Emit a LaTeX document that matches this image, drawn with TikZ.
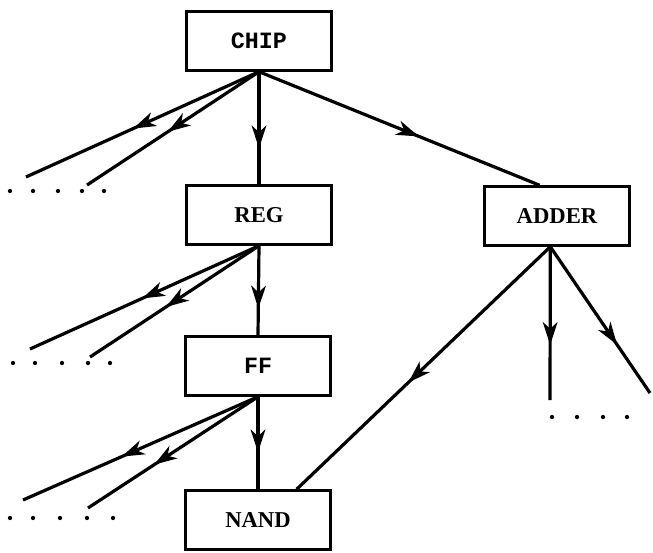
\documentclass[tikz,border=0pt]{standalone}
\usepackage{fontspec}
\setmainfont{Liberation Serif}
\newfontfamily\boxmono{Liberation Mono}
\usetikzlibrary{arrows.meta,decorations.markings,calc}
\begin{document}
\begin{tikzpicture}[x=0.75pt,y=-0.75pt,
  blk/.style={draw,line width=2.1pt,minimum width=109pt,minimum height=44pt,inner sep=0pt,font=\fontsize{17}{17}\selectfont\bfseries},
  mblk/.style={blk,font=\fontsize{17.5}{17.5}\selectfont\boxmono\bfseries},
  edge/.style={line width=2.4pt},
  midarr/.style={edge,postaction={decorate},decoration={markings,mark=at position #1 with {\arrow{Stealth[length=17pt,width=11pt,inset=5pt]}}}},
  dot/.style={circle,fill,inner sep=0pt,minimum size=3.2pt}]
\useasboundingbox (0,0) rectangle (653,553);
% boxes
\node[mblk] (chip) at (259,41) {CHIP};
\node[blk] (reg) at (259,215) {REG};
\node[mblk] (ff) at (258,366) {FF};
\node[blk] (nand) at (258,520) {NAND};
\node[blk] (adder) at (557,216) {ADDER};
% anchors
\coordinate (adin) at ([xshift=-13pt]adder.north);
\coordinate (adout) at ([xshift=-5pt]adder.south);
\coordinate (nandin) at ([xshift=29pt]nand.north);
% free ends
\coordinate (c1) at (26,177);
\coordinate (c2) at (87,185);
\coordinate (r1) at (30,349);
\coordinate (r2) at (90,357);
\coordinate (f1) at (23,500);
\coordinate (f2) at (88,508);
\coordinate (a1) at (550,400);
\coordinate (a2) at (650,393);
% connectors
\draw[midarr=0.68] (chip.south) -- (reg.north);
\draw[midarr=0.57] (chip.south) -- (adin);
\draw[midarr=0.54] (chip.south) -- (c1);
\draw[midarr=0.53] (chip.south) -- (c2);
\draw[midarr=0.7] (reg.south) -- (ff.north);
\draw[midarr=0.51] (reg.south) -- (r1);
\draw[midarr=0.55] (reg.south) -- (r2);
\draw[midarr=0.6] (ff.south) -- (nand.north);
\draw[midarr=0.58] (ff.south) -- (f1);
\draw[midarr=0.61] (ff.south) -- (f2);
\draw[midarr=0.56] (adout) -- (nandin);
\draw[midarr=0.64] (adout) -- (a1);
\draw[midarr=0.67] (adout) -- (a2);
% continuation dots
\foreach \x [count=\i] in {10,33,58,82,104} \node[dot] (cd\i) at (\x,191) {};
\foreach \x [count=\i] in {13,35,62,88,110} \node[dot] (rd\i) at (\x,363) {};
\foreach \x [count=\i] in {10,33,60,87,113} \node[dot] (fd\i) at (\x,518) {};
\foreach \x [count=\i] in {552,577,603,627} \node[dot] (ad\i) at (\x,417) {};
\end{tikzpicture}
\end{document}
